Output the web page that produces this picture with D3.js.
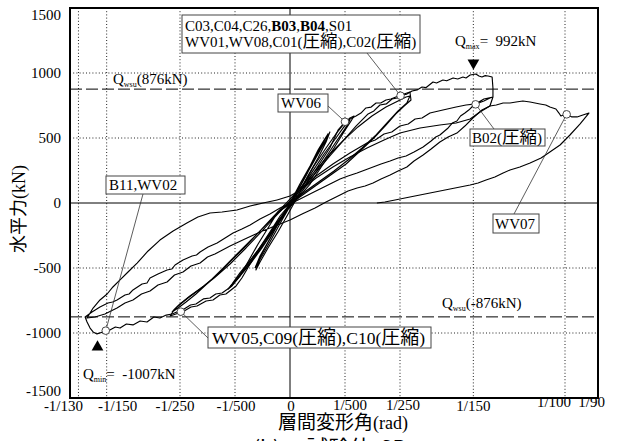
<!DOCTYPE html>
<html><head><meta charset="utf-8">
<script src="https://cdn.jsdelivr.net/npm/d3@7"></script>
<style>body{margin:0;background:#fff} svg{display:block} text{font-family:"Liberation Serif","Times New Roman","DejaVu Serif",serif}</style>
</head><body>
<svg id="c" width="617" height="441"></svg>
<script>
// drift angle in 10^-3 rad, horizontal force in kN
const tickDenoms = [-130, -150, -250, -500, 0, 500, 250, 150, 100, 90];
const tickLabels = ["-1/130", "-1/150", "-1/250", "-1/500", "0", "1/500", "1/250", "1/150", "1/100", "1/90"];
const yTicks = [-1500, -1000, -500, 0, 500, 1000, 1500];
const qwsu = 876;
const qmaxPoint = [6.67, 992];
const qminPoint = [-7.0, -1007];

const cyc1000 = [[0,0],[0.36,146],[0.73,285],[1.02,408],[1.24,485],[1.38,531],
 [1.24,477],[0.95,362],[0.58,208],[0.22,69],[-0.15,-54],[-0.51,-192],[-0.87,-331],[-1.09,-423],[-1.24,-515],
 [-1.09,-454],[-0.80,-346],[-0.44,-223],[-0.07,-85],[0.29,54],[0.65,208],[1.02,346],[1.31,469],[1.45,546],
 [1.31,485],[1.02,377],[0.65,238],[0.29,100],[-0.07,-31],[-0.44,-162],[-0.80,-300],[-1.09,-408],[-1.27,-500]];

const cyc500 = [[-1.27,-500],[-1.02,-408],[-0.65,-269],[-0.29,-131],[0.07,0],[0.44,131],[0.87,285],[1.31,423],[1.67,531],[1.96,608],[2.18,654],[2.33,669],
 [2.22,631],[1.96,546],[1.60,423],[1.16,285],[0.73,146],[0.29,38],[-0.15,-69],[-0.58,-208],[-1.02,-346],[-1.45,-469],[-1.82,-562],[-2.07,-623],[-2.25,-662],
 [-2.11,-623],[-1.82,-538],[-1.38,-423],[-0.95,-300],[-0.51,-162],[-0.07,-31],[0.36,100],[0.80,238],[1.24,377],[1.67,500],[1.96,585],[2.18,639],
 [2.04,585],[1.67,469],[1.24,331],[0.80,192],[0.36,69],[-0.07,-46],[-0.51,-177],[-0.95,-315],[-1.38,-438],[-1.75,-538],[-2.04,-615],[-2.18,-646]];

const cyc250 = [[-2.18,-646],[-1.96,-592],[-1.60,-485],[-1.16,-362],[-0.73,-223],[-0.29,-100],[0.15,23],[0.58,146],[1.02,285],[1.45,423],[1.75,562],[2.04,631],[2.40,669],[2.58,692],[2.76,731],[2.95,738],[3.13,769],[3.30,769],[3.49,792],[3.67,800],[3.85,815],[4.15,838],[4.36,854],[4.40,792],
 [4.15,746],[3.85,685],[3.49,600],[3.05,500],[2.55,400],[2.04,300],[1.53,223],[1.02,146],[0.51,69],[0,-8],[-0.36,-100],[-0.73,-223],[-1.09,-346],[-1.45,-469],[-1.75,-577],[-1.96,-638],[-2.33,-700],[-2.55,-708],[-2.80,-746],[-3.05,-754],[-3.38,-792],[-3.60,-800],[-3.85,-831],[-4.15,-854],[-4.36,-869],
 [-4.22,-823],[-4.0,-777],[-3.64,-715],[-3.13,-638],[-2.62,-546],[-2.11,-438],[-1.60,-331],[-1.09,-215],[-0.58,-100],[-0.07,15],[0.44,131],[0.95,254],[1.45,377],[1.96,485],[2.47,585],[2.98,669],[3.49,738],[3.93,785],[4.22,815],[4.36,823],
 [4.25,769],[3.93,708],[3.56,623],[3.13,523],[2.62,423],[2.11,331],[1.60,246],[1.09,169],[0.58,92],[0.07,15],[-0.44,-77],[-0.95,-185],[-1.45,-292],[-1.96,-400],[-2.47,-508],[-2.98,-615],[-3.42,-700],[-3.78,-762],[-4.07,-808],[-4.29,-838]];

const cyc150 = [[-4.29,-838],[-4.07,-792],[-3.71,-731],[-3.27,-662],[-2.76,-577],[-2.18,-469],[-1.60,-346],[-1.09,-231],[-0.58,-115],[-0.07,0],[0.44,115],[0.95,238],[1.45,362],[1.96,485],[2.40,592],[2.84,685],[3.05,708],[3.27,754],[3.50,762],[3.71,800],[3.90,808],[4.07,831],[4.25,838],[4.44,862],[4.62,870],[4.80,892],[4.95,888],[5.20,931],[5.33,923],[5.56,946],[5.70,940],[5.93,962],[6.10,954],[6.29,969],[6.40,962],[6.55,985],[6.76,992],[6.87,977],[6.98,969],[7.10,980],[7.20,977],[7.35,969],
 [7.38,885],[7.38,815],[7.05,800],[6.87,777],
 [6.65,746],[6.50,715],[6.36,692],[6.20,669],[6.07,631],[5.90,615],[5.75,577],[5.45,523],[5.30,508],[5.13,477],[4.84,431],[4.51,392],[4.22,362],[3.93,346],[3.64,323],[3.31,300],[3.02,277],[2.73,254],[2.44,231],[2.11,208],[1.82,185],[1.31,131],[0.87,85],[0.44,38],[0,-8],[-0.44,-69],
 [-0.80,-192],[-1.16,-315],[-1.53,-454],[-1.82,-562],[-2.11,-638],[-2.47,-692],[-2.70,-700],[-2.91,-731],[-3.15,-738],[-3.42,-777],[-3.62,-785],[-3.85,-815],[-4.29,-854],[-4.50,-862],[-4.73,-885],[-4.95,-877],[-5.20,-915],[-5.45,-908],[-5.71,-938],[-5.95,-931],[-6.18,-962],[-6.35,-954],[-6.55,-977],[-6.80,-992],[-7.02,-1007],[-7.16,-992],[-7.27,-962],[-7.38,-915],[-7.45,-877],
 [-7.20,-838],[-6.91,-800],[-6.62,-769],[-6.45,-762],[-6.29,-746],[-6.0,-708],[-5.85,-700],[-5.71,-669],[-5.38,-623],[-5.20,-615],[-5.09,-577],[-4.80,-546],[-4.47,-515],[-4.30,-508],[-4.18,-477],[-3.89,-438],[-3.56,-408],[-3.40,-400],[-3.27,-377],[-2.98,-338],[-2.65,-308],[-2.36,-269],[-2.07,-231],[-1.75,-200],[-1.45,-169],[-1.09,-123],[-0.73,-85],[-0.36,-38],[0,0],
 [0.36,100],[0.95,208],[1.56,300],[2.18,385],[2.80,462],[3.10,485],[3.42,531],[3.70,546],[4.0,592],[4.30,608],[4.55,646],[4.80,654],[5.09,692],[5.56,715],[6.04,738],[6.40,754],[6.76,762],[7.05,785],[7.27,808],[7.38,815],
 [7.27,746],[6.98,715],[6.65,654],[6.36,592],[6.07,538],[5.75,508],[5.45,469],[5.13,415],[4.84,369],[4.51,323],[4.25,277],[3.93,246],[3.64,215],[3.31,185],[3.02,154],[2.73,131],[2.44,115],[2.11,92],[1.82,62],[1.31,8],[0.91,-38],[0.44,-85],[0,-131],[-0.55,-177],[-1.09,-223],[-1.64,-277],[-2.18,-331],[-2.73,-392],[-3.00,-415],[-3.27,-462],[-3.60,-485],[-3.89,-531],[-4.20,-554],[-4.47,-608],[-4.80,-631],[-5.09,-677],[-5.40,-700],[-5.71,-746],[-6.00,-769],[-6.29,-808],[-6.73,-854],[-7.09,-877],[-7.38,-885],
 [-7.16,-808],[-6.91,-746],[-6.65,-700],[-6.44,-646],[-6.18,-592],[-5.89,-531],[-5.56,-462],[-5.16,-369],[-4.73,-285],[-4.25,-215],[-3.75,-154],[-3.35,-108],[-2.91,-77],[-2.47,-69],[-1.93,-54],[-1.45,-23],[-0.98,0],[-0.47,23]];

const finalPush = [[-0.47,23],[0,54],[0.44,108],[0.95,192],[1.56,277],[2.18,354],[2.80,423],[3.42,485],[4.0,538],[4.73,577],[5.45,600],[6.04,615],[6.55,646],[6.91,700],[7.27,746],[7.50,754],[7.75,769],[8.00,769],[8.22,777],[8.47,785],[8.73,777],[9.09,762],[9.30,754],[9.45,738],[9.67,723],[9.78,692],[9.85,669],[10.04,685],[10.25,662],[10.44,662],[10.65,677],[10.87,692],
 [10.55,608],[10.18,523],[9.82,446],[9.45,392],[9.13,346],[8.73,308],[8.36,277],[8.0,254],[7.75,231],[7.45,200],[7.13,177],[6.84,154],[6.55,138],[5.82,108],[5.09,77],[4.36,46],[3.82,23],[3.45,8],[3.16,0]];

const markerPoints = [[4.02,825],[2.0,625],[6.75,759],[10.06,682],[-6.70,-982],[-3.97,-836]];
const markerLabels = [["C03,C04,C26,", {b:"B03"}, ",", {b:"B04"}, ",S01", "\n", "WV01,WV08,C01(圧縮),C02(圧縮)"],
  ["WV06"], ["B02(圧縮)"], ["WV07"], ["B11,WV02"], ["WV05,C09(圧縮),C10(圧縮)"]];

const svg = d3.select("#c");
const x = d3.scaleLinear().domain([-8, 11.2]).range([70, 598]);
const y = d3.scaleLinear().domain([-1500, 1500]).range([398, 8]);
const tickVals = tickDenoms.map(d => d === 0 ? 0 : 1000 / d);
const CJK = /([\u3000-\u9fff]+)/;

function rich(t, str, cjkSize, bold) {
  str.split(CJK).forEach(s => {
    if (!s) return;
    const ts = t.append("tspan").text(s);
    if (CJK.test(s)) ts.attr("font-size", cjkSize).style("font-family", "'Noto Sans CJK JP',sans-serif");
    if (bold) ts.attr("font-weight", "bold");
  });
}

// grid
const g = svg.append("g");
g.selectAll("line.vg").data(tickVals.filter(v => v !== 0 && v < 11)).join("line")
  .attr("x1", d => x(d)).attr("x2", d => x(d)).attr("y1", y(1500)).attr("y2", y(-1500))
  .attr("stroke", "#222").attr("stroke-width", 1).attr("stroke-dasharray", "1,2.2");
g.selectAll("line.hg").data(yTicks.filter(v => v !== 0 && Math.abs(v) < 1500)).join("line")
  .attr("x1", x(-8)).attr("x2", x(11.2)).attr("y1", d => y(d)).attr("y2", d => y(d))
  .attr("stroke", "#222").attr("stroke-width", 1).attr("stroke-dasharray", "1,2.2");
g.append("line").attr("x1", x(0)).attr("x2", x(0)).attr("y1", y(1500)).attr("y2", y(-1500)).attr("stroke", "#000").attr("stroke-width", 1);
g.append("line").attr("x1", x(-8)).attr("x2", x(11.2)).attr("y1", y(0)).attr("y2", y(0)).attr("stroke", "#000").attr("stroke-width", 1);

[qwsu, -qwsu].forEach(v => {
  g.append("line").attr("x1", x(-8)).attr("x2", x(11.2)).attr("y1", y(v)).attr("y2", y(v))
    .attr("stroke", "#000").attr("stroke-width", 1).attr("stroke-dasharray", "12,4");
});

// curves
const line = d3.line().x(d => x(d[0])).y(d => y(d[1]));
[cyc1000, cyc500, cyc250, cyc150, finalPush].forEach(c => {
  svg.append("path").attr("d", line(c)).attr("fill", "none").attr("stroke", "#000")
    .attr("stroke-width", 1.15).attr("stroke-linejoin", "round");
});

// frame
svg.append("rect").attr("x", x(-8)).attr("y", y(1500)).attr("width", x(11.2) - x(-8)).attr("height", y(-1500) - y(1500))
  .attr("fill", "none").attr("stroke", "#000").attr("stroke-width", 2);

// y tick labels
svg.selectAll("text.yt").data(yTicks).join("text")
  .attr("x", 61).attr("y", d => Math.min(Math.max(y(d), 14.5), 391) + 5)
  .attr("text-anchor", "end").attr("font-size", 15).text(d => d);

// x tick labels
const xNudge = [-15, 11, -5, 1, 1, 5, 3, 0, -11, -4];
const xBase = [411, 411, 411, 411, 411, 410, 410, 411, 407, 407];
svg.selectAll("text.xt").data(tickVals).join("text")
  .attr("x", (d, i) => x(d) + xNudge[i]).attr("y", (d, i) => xBase[i])
  .attr("text-anchor", "middle").attr("font-size", 15)
  .text((d, i) => tickLabels[i]);

// axis titles
const xt = svg.append("text").attr("x", 343).attr("y", 429).attr("text-anchor", "middle").attr("font-size", 18);
rich(xt, "層間変形角(rad)", 19);
const yt = svg.append("text").attr("transform", "translate(25,209) rotate(-90)").attr("text-anchor", "middle").attr("font-size", 18);
rich(yt, "水平力(kN)", 18);
const cap = svg.append("text").attr("y", 456).style("font-family", "'Noto Sans CJK JP',sans-serif").attr("font-size", 21);
cap.append("tspan").attr("x", 253).text("(b)");
cap.append("tspan").attr("x", 306).attr("font-size", 22).text("試験体");
cap.append("tspan").attr("x", 380).text("SP");

function qLabel(px, py, sub, rest) {
  const t = svg.append("text").attr("x", px).attr("y", py).attr("font-size", 15);
  t.append("tspan").text("Q");
  t.append("tspan").attr("font-size", 8).attr("dy", 3).text(sub);
  t.append("tspan").attr("dy", -3).text(rest);
}
qLabel(113, 84, "wsu", "(" + qwsu + "kN)");
qLabel(442, 308, "wsu", "(-" + qwsu + "kN)");
qLabel(455, 46, "max", "=\u00a0 " + qmaxPoint[1] + "kN");
qLabel(83, 379, "min", "=\u00a0 " + qminPoint[1] + "kN");

const tri = d3.symbol().type(d3.symbolTriangle).size(60);
svg.append("path").attr("d", tri()).attr("transform", `translate(${x(qmaxPoint[0])},63) rotate(180)`).attr("fill", "#000");
svg.append("path").attr("d", tri()).attr("transform", `translate(${x(qminPoint[0])},347)`).attr("fill", "#000");

const boxes = [
  {bx: 182, by: 15, bw: 238, bh: 38, tx: 185, ty: [31, 47], lx: 367, ly: 53, fs: 15, ks: 17.5},
  {bx: 278, by: 94, bw: 50, bh: 18, tx: 281, ty: [108], lx: 328, ly: 106, fs: 15, ks: 17.5},
  {bx: 470, by: 129, bw: 75, bh: 17, tx: 472, ty: [142.5], lx: 494, ly: 129, fs: 15, ks: 17.5},
  {bx: 493, by: 214, bw: 46, bh: 19, tx: 495, ty: [229], lx: 514, ly: 214, fs: 15, ks: 17.5},
  {bx: 106, by: 176, bw: 79, bh: 18, tx: 109, ty: [190], lx: 143, ly: 194, fs: 15, ks: 17.5},
  {bx: 208, by: 327, bw: 223, bh: 21, tx: 212, ty: [344], lx: 208, ly: 338, fs: 17.5, ks: 19}
];
boxes.forEach((b, i) => {
  const m = markerPoints[i];
  svg.append("line").attr("x1", b.lx).attr("y1", b.ly).attr("x2", x(m[0])).attr("y2", y(m[1]))
    .attr("stroke", "#333").attr("stroke-width", 0.8);
  svg.append("rect").attr("x", b.bx).attr("y", b.by).attr("width", b.bw).attr("height", b.bh)
    .attr("fill", "#fff").attr("stroke", "#444").attr("stroke-width", 1);
  let li = 0;
  let t = svg.append("text").attr("x", b.tx).attr("y", b.ty[0]).attr("font-size", b.fs);
  markerLabels[i].forEach(part => {
    if (part === "\n") {
      li++;
      t = svg.append("text").attr("x", b.tx).attr("y", b.ty[li]).attr("font-size", b.fs);
    } else if (typeof part === "object") {
      rich(t, part.b, b.ks, true);
    } else {
      rich(t, part, b.ks, false);
    }
  });
});
svg.selectAll("circle.mk").data(markerPoints).join("circle")
  .attr("cx", d => x(d[0])).attr("cy", d => y(d[1])).attr("r", 3.8)
  .attr("fill", "#fff").attr("stroke", "#333").attr("stroke-width", 0.9);
</script>
</body></html>
